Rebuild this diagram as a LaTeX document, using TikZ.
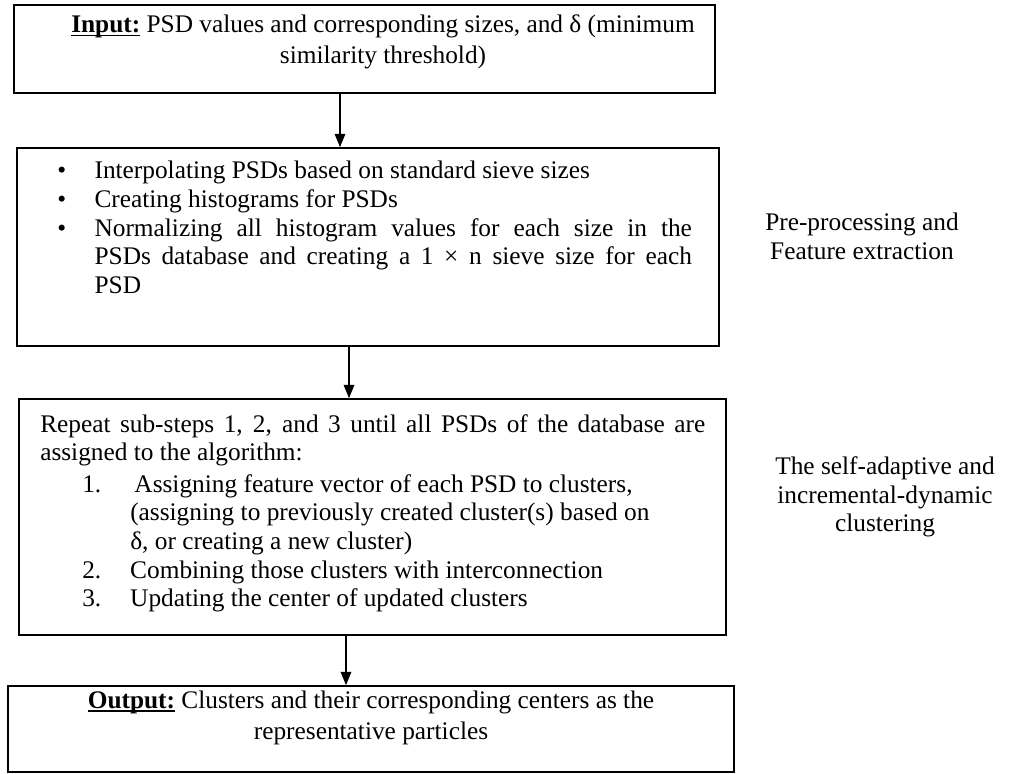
\documentclass[tikz,border=0pt]{standalone}
\usepackage{fontspec}
\setmainfont{Liberation Serif}
\newcommand{\myul}[1]{\setbox0\hbox{#1}\rlap{\rule[-2.4pt]{\wd0}{1.1pt}}\box0\relax}
\usetikzlibrary{arrows.meta}
\begin{document}
\begin{tikzpicture}[x=0.75pt,y=-0.75pt,
  box/.style={draw, line width=1.3pt, rectangle, inner sep=0pt},
  txt/.style={inner sep=0pt, font=\fontsize{19}{21.5}\selectfont},
  arr/.style={line width=0.9pt, -{Triangle[length=10pt,width=8pt]}}]
\useasboundingbox (0,0) rectangle (1014,774);
% boxes
\node[box, minimum width=525.75pt, minimum height=66pt] (box1) at (364.5,49) {};
\node[box, minimum width=526.5pt, minimum height=148.5pt] (box2) at (368,247) {};
\node[box, minimum width=530.25pt, minimum height=177pt] (box3) at (372.5,517) {};
\node[box, minimum width=544.5pt, minimum height=64.5pt] (box4) at (371,729) {};
% texts
\node[txt, align=center, font=\fontsize{19}{23}\selectfont] (t1) at (383,42) {\myul{\textbf{Input:}} PSD values and corresponding sizes, and δ (minimum\\ similarity threshold)};
\node[txt, align=left, anchor=north west] (t2) at (57,161) {%
\makebox[28pt][l]{\textbullet}Interpolating PSDs based on standard sieve sizes\\
\makebox[28pt][l]{\textbullet}Creating histograms for PSDs\\
\makebox[28pt][l]{\textbullet}\makebox[448pt][s]{Normalizing all histogram values for each size in the}\\
\hspace*{28pt}\makebox[448pt][s]{PSDs database and creating a 1 × n sieve size for each}\\
\hspace*{28pt}PSD};
\node[txt, align=left, anchor=north west] (t3) at (40,414) {%
\makebox[498.75pt][s]{Repeat sub-steps 1, 2, and 3 until all PSDs of the database are}\\
assigned to the algorithm:\\[2pt]
\hspace*{31.5pt}\makebox[36pt][l]{1.}\,Assigning feature vector of each PSD to clusters,\\
\hspace*{67.5pt}(assigning to previously created cluster(s) based on\\
\hspace*{67.5pt}δ, or creating a new cluster)\\
\hspace*{31.5pt}\makebox[36pt][l]{2.}Combining those clusters with interconnection\\
\hspace*{31.5pt}\makebox[36pt][l]{3.}Updating the center of updated clusters};
\node[txt, align=center, font=\fontsize{19}{23}\selectfont] (t4) at (371,718) {\myul{\textbf{Output:}} Clusters and their corresponding centers as the\\ representative particles};
\node[txt, align=center] (l1) at (862,236) {Pre-processing and\\ Feature extraction};
\node[txt, align=center] (l2) at (885,497) {The self-adaptive and\\ incremental-dynamic\\ clustering};
% arrows
\coordinate (c1) at (340,0);
\coordinate (c2) at (349,0);
\coordinate (c3) at (346,0);
\draw[arr] (box1.south -| c1) -- (box2.north -| c1);
\draw[arr] (box2.south -| c2) -- (box3.north -| c2);
\draw[arr] (box3.south -| c3) -- (box4.north -| c3);
\end{tikzpicture}
\end{document}
